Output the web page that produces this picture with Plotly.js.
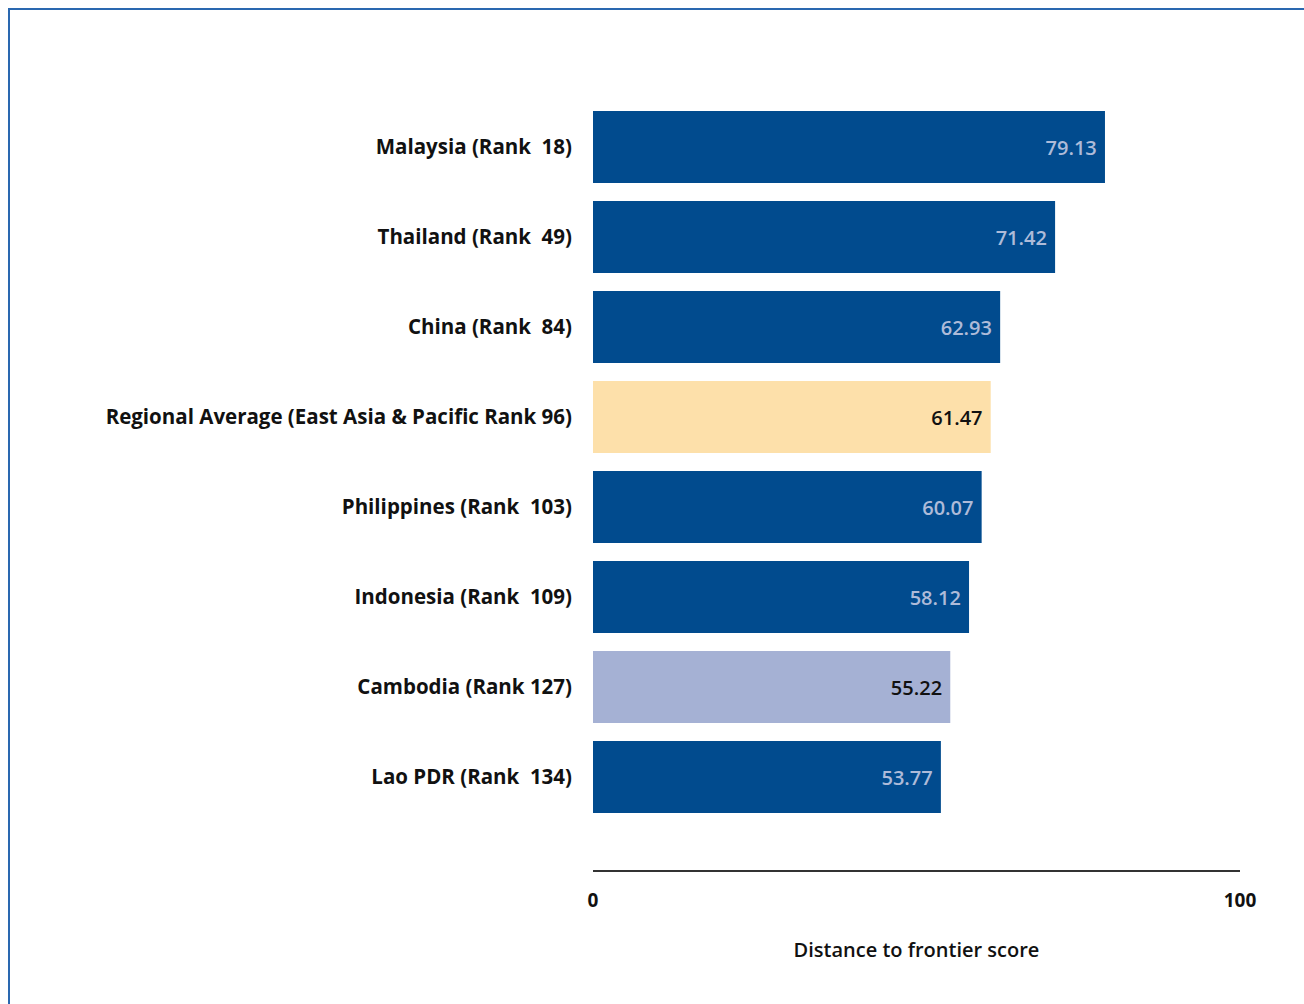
<!DOCTYPE html>
<html>
<head>
<meta charset="utf-8">
<script src="https://cdn.plot.ly/plotly-3.0.1.min.js"></script>
<style>html,body{margin:0;padding:0;background:#fff;}#chart{width:1304px;height:1004px;}</style>
</head>
<body>
<div id="chart"></div>
<script>
const categories = [
  "Malaysia (Rank\u00a0\u00a018)",
  "Thailand (Rank\u00a0\u00a049)",
  "China (Rank\u00a0\u00a084)",
  "Regional Average (East Asia & Pacific Rank 96)",
  "Philippines (Rank\u00a0\u00a0103)",
  "Indonesia (Rank\u00a0\u00a0109)",
  "Cambodia (Rank 127)",
  "Lao PDR (Rank\u00a0\u00a0134)"
];
const scores = [79.13, 71.42, 62.93, 61.47, 60.07, 58.12, 55.22, 53.77];
const barColors = ["#014b8e","#014b8e","#014b8e","#fde0aa","#014b8e","#014b8e","#a5b1d4","#014b8e"];
const textColors = ["#aebbd9","#aebbd9","#aebbd9","#111111","#aebbd9","#aebbd9","#111111","#aebbd9"];
const xTicks = [0, 100];

const font = "'Open Sans', sans-serif";

const trace = {
  type: "bar",
  orientation: "h",
  y: categories,
  x: scores,
  width: 0.8,
  marker: {color: barColors, line: {width: 0}},
  text: scores.map(v => v.toFixed(2) + "\u00a0"),
  textposition: "inside",
  insidetextanchor: "end",
  textangle: 0,
  textfont: {family: font, size: 20, color: textColors, weight: 600},
  constraintext: "none",
  hoverinfo: "none",
  cliponaxis: false
};

const layout = {
  width: 1304,
  height: 1004,
  margin: {l: 593, r: 64, t: 102, b: 134, pad: 0},
  paper_bgcolor: "#ffffff",
  plot_bgcolor: "#ffffff",
  showlegend: false,
  xaxis: {
    range: [0, 100],
    tickvals: xTicks,
    ticktext: xTicks.map(String),
    showgrid: false,
    zeroline: false,
    showline: true,
    linecolor: "#333333",
    linewidth: 2,
    ticks: "",
    ticklabelstandoff: 12,
    tickfont: {family: font, size: 19, color: "#111111", weight: 700},
    title: {text: "Distance to frontier score", font: {family: font, size: 20, color: "#111111", weight: 600}, standoff: 31},
    fixedrange: true
  },
  yaxis: {
    type: "category",
    categoryorder: "array",
    categoryarray: categories,
    range: [8.033, -0.5],
    showgrid: false,
    zeroline: false,
    showline: false,
    ticks: "",
    ticklabelstandoff: 20,
    tickfont: {family: font, size: 20.5, color: "#111111", weight: 700},
    fixedrange: true
  },
  shapes: [
    {type: "rect", xref: "paper", yref: "paper",
     x0: (9 - 593) / 647, x1: (1312 - 593) / 647,
     y0: (870 - 1012) / 768, y1: (870 - 9) / 768,
     line: {color: "#2a68b0", width: 2}, fillcolor: "rgba(0,0,0,0)", layer: "below"}
  ]
};

Plotly.newPlot("chart", [trace], layout, {displayModeBar: false, staticPlot: true});
</script>
</body>
</html>
